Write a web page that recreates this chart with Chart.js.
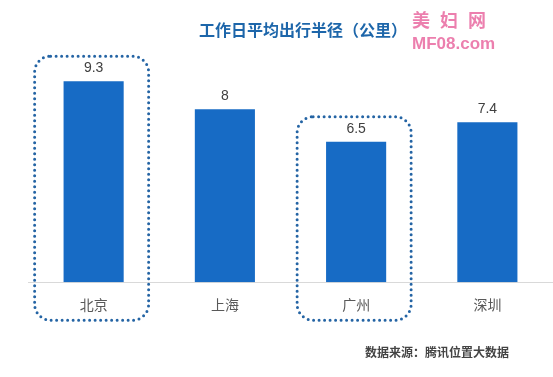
<!DOCTYPE html>
<html>
<head>
<meta charset="utf-8">
<script src="https://cdn.jsdelivr.net/npm/chart.js@4/dist/chart.umd.min.js"></script>
<style>
  html, body { margin: 0; padding: 0; background: #fff; }
  .wrap { position: relative; width: 553px; height: 377px; overflow: hidden; }
  .title {
    position: absolute; left: 199px; top: 17px;
    font: bold 16px 'Noto Sans CJK SC', sans-serif; color: #1d66aa; white-space: nowrap;
  }
  .source {
    position: absolute; left: 365px; top: 343px;
    font: bold 12px 'Noto Sans CJK SC', sans-serif; color: #444; white-space: nowrap;
  }
  .mark {
    position: absolute; left: 412px; top: 8px; color: #ec7fae;
    font: bold 18px 'Noto Sans CJK SC', sans-serif; line-height: 22px; white-space: nowrap;
    letter-spacing: 10px;
  }
  .mark .url { font: bold 17px 'Liberation Sans', sans-serif; letter-spacing: 0; }
</style>
</head>
<body>
<div class="wrap">
  <canvas id="radiusChart" width="553" height="377"></canvas>
  <div class="title">工作日平均出行半径（公里）</div>
  <div class="mark">美妇网<br><span class="url">MF08.com</span></div>
  <div class="source">数据来源：腾讯位置大数据</div>
</div>
<script>
// workday average travel radius (km)
const cities = ['北京', '上海', '广州', '深圳'];
const radiusKm = [9.3, 8, 6.5, 7.4];
const highlighted = ['北京', '广州'];

const BAR_BLUE = '#176bc5';

// value labels above each bar
const valueLabels = {
  id: 'valueLabels',
  afterDatasetsDraw(chart) {
    const { ctx } = chart;
    const meta = chart.getDatasetMeta(0);
    ctx.save();
    ctx.font = "14px 'Liberation Sans', sans-serif";
    ctx.fillStyle = '#404040';
    ctx.textAlign = 'center';
    ctx.textBaseline = 'middle';
    meta.data.forEach((bar, i) => {
      ctx.fillText(String(radiusKm[i]), bar.x, bar.y - 13);
    });
    ctx.restore();
  }
};

// dotted rounded boxes around highlighted cities
const highlightBoxes = {
  id: 'highlightBoxes',
  afterDraw(chart) {
    const { ctx, chartArea } = chart;
    const x = chart.scales.x;
    const y = chart.scales.y;
    ctx.save();
    ctx.strokeStyle = '#2464a4';
    ctx.lineWidth = 3;
    ctx.lineCap = 'round';
    ctx.setLineDash([0, 5.5]);
    highlighted.forEach(name => {
      const i = cities.indexOf(name);
      const cx = x.getPixelForValue(i) - 2;
      const left = cx - 57;
      const top = y.getPixelForValue(radiusKm[i]) - 25;
      const bottom = chartArea.bottom + 38;
      ctx.beginPath();
      ctx.roundRect(left, top, 114, bottom - top, 16);
      ctx.stroke();
    });
    ctx.restore();
  }
};

new Chart(document.getElementById('radiusChart'), {
  type: 'bar',
  data: {
    labels: cities,
    datasets: [{
      data: radiusKm,
      backgroundColor: BAR_BLUE,
      barPercentage: 1,
      categoryPercentage: 0.458
    }]
  },
  options: {
    responsive: false,
    animation: false,
    layout: { padding: { left: 28, right: 0, top: 66, bottom: 50 } },
    plugins: {
      legend: { display: false },
      tooltip: { enabled: false }
    },
    scales: {
      x: {
        grid: { display: false, drawTicks: false },
        border: { color: '#d9d9d9', width: 1 },
        ticks: {
          color: '#595959',
          padding: 14,
          font: { size: 14, family: "'Noto Sans CJK SC', sans-serif" }
        }
      },
      y: {
        display: false,
        min: 0,
        max: 10
      }
    }
  },
  plugins: [valueLabels, highlightBoxes]
});
</script>
</body>
</html>
